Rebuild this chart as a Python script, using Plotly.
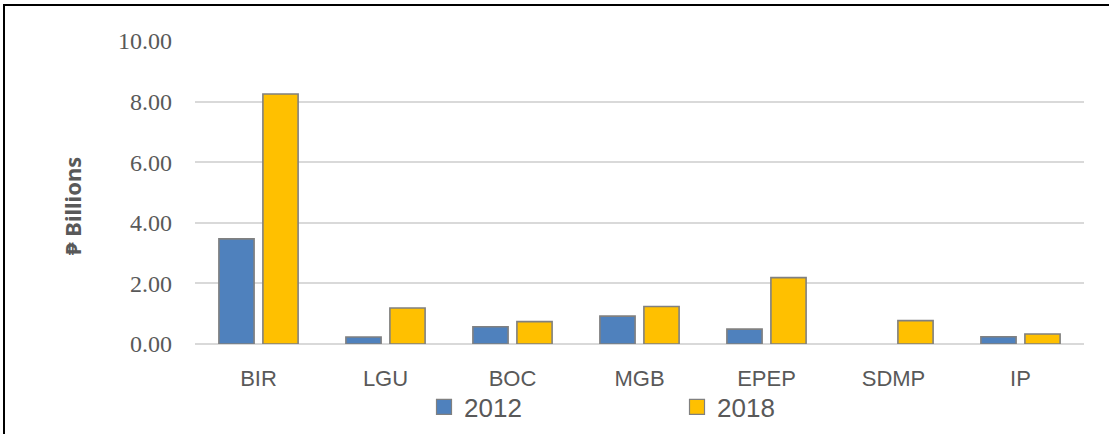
import plotly.graph_objects as go

categories = ["BIR", "LGU", "BOC", "MGB", "EPEP", "SDMP", "IP"]
values_2012 = [3.47, 0.23, 0.57, 0.92, 0.49, None, 0.24]
values_2018 = [8.25, 1.19, 0.74, 1.24, 2.19, 0.77, 0.33]
series_names = ["2012", "2018"]
series_colors = ["#4F81BD", "#FFC000"]
y_ticks = [0, 2, 4, 6, 8, 10]
y_tick_labels = ["0.00", "2.00", "4.00", "6.00", "8.00", "10.00"]

W, H = 1109, 434
L, R, T, B = 195, 25, 41, 90
pw = W - L - R
ph = H - T - B

def px_x(p):
    return (p - L) / pw

def px_y(p):
    return (H - B - p) / ph

outline = dict(color="#808080", width=1.6)
fig = go.Figure()
for name, vals, col in zip(series_names, [values_2012, values_2018], series_colors):
    fig.add_trace(go.Bar(x=categories, y=vals, name=name, showlegend=False,
                         legendgroup=name,
                         marker=dict(color=col, line=outline)))
# legend entries with larger square swatches
for name, col in zip(series_names, series_colors):
    fig.add_trace(go.Scatter(x=[None], y=[None], mode="markers", name=name,
                             legendgroup=name,
                             marker=dict(symbol="square", size=15, color=col,
                                         line=dict(color="#808080", width=1.2))))

fig.update_layout(
    width=W, height=H,
    margin=dict(l=L, r=R, t=T, b=B, pad=0, autoexpand=False),
    paper_bgcolor="white", plot_bgcolor="white",
    barmode="group", bargap=0.307, bargroupgap=0.2,
    showlegend=True,
    legend=dict(orientation="h", x=px_x(424), xanchor="left",
                y=px_y(407), yanchor="middle",
                font=dict(family="Liberation Sans", size=26, color="#595959"),
                entrywidth=208, entrywidthmode="pixels", itemsizing="trace",
                bgcolor="rgba(0,0,0,0)"),
    xaxis=dict(showgrid=False, showline=False, zeroline=False, ticks="",
               automargin=False,
               tickfont=dict(family="Liberation Sans", size=22, color="#595959"),
               ticklabelstandoff=19),
    yaxis=dict(range=[0, 10], tickvals=y_ticks, ticktext=y_tick_labels,
               automargin=False,
               showgrid=True, gridcolor="#D9D9D9", gridwidth=1.5,
               zeroline=True, zerolinecolor="#D9D9D9", zerolinewidth=2,
               showline=False, ticks="",
               tickfont=dict(family="Liberation Serif", size=24, color="#595959"),
               ticklabelstandoff=22),
    font=dict(family="Liberation Sans", color="#595959"),
)

fig.add_annotation(text="<b>₱ Billions</b>", xref="paper", yref="paper",
                   x=px_x(72), y=px_y(206), xanchor="center", yanchor="middle",
                   textangle=-90, showarrow=False,
                   font=dict(family="Noto Sans, DejaVu Sans", size=22, color="#595959"))

fig.add_shape(type="rect", xref="paper", yref="paper",
              x0=px_x(4), x1=px_x(1140), y0=px_y(5), y1=px_y(470),
              line=dict(color="black", width=2), fillcolor="rgba(0,0,0,0)",
              layer="above")

fig.write_html("out.html", config={"displayModeBar": False},
               post_script="document.body.style.margin='0';document.body.style.overflow='hidden';")
